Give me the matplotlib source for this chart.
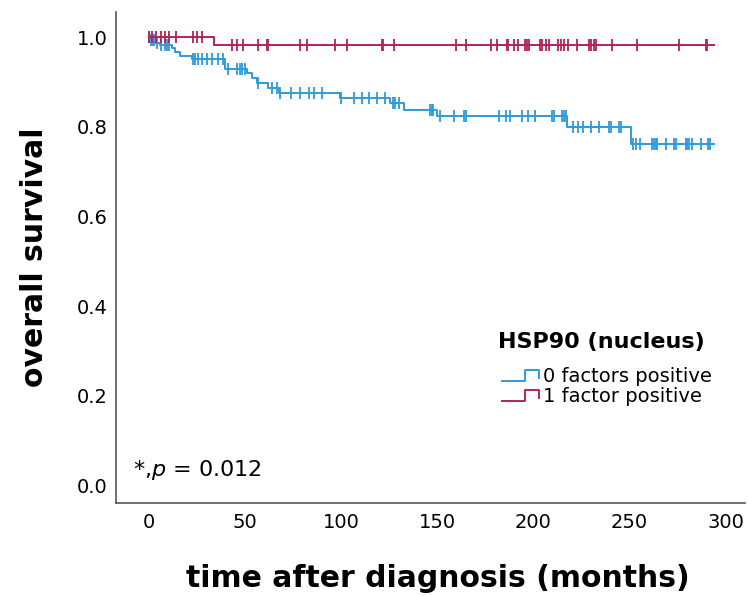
import numpy as np
import matplotlib
matplotlib.use("Agg")
import matplotlib.pyplot as plt
from matplotlib.lines import Line2D
from matplotlib.legend_handler import HandlerBase

# Kaplan-Meier steps (months, survival)
blue_event_t = [0.6, 3.2, 5.8, 11.9, 13.6, 16.2, 22.3, 39.7, 51.0, 53.6, 56.2,
                62.0, 67.5, 99.5, 125.6, 132.8, 149.9, 217.5, 250.9]
blue_surv = [0.994, 0.988, 0.983, 0.976, 0.968, 0.959, 0.951, 0.929, 0.920,
             0.909, 0.899, 0.888, 0.877, 0.864, 0.853, 0.837, 0.825, 0.800, 0.762]
blue_censor_t = [0.3, 1.0, 2.0, 2.7, 4.1, 6.2, 8.4, 9.3, 10.7, 23.2, 24.0, 25.8,
                 27.5, 30.1, 32.7, 36.2, 38.5, 41.4, 45.7, 47.5, 48.4, 50.1, 57.0,
                 64.0, 66.6, 68.3, 74.0, 78.7, 83.5, 85.8, 90.0, 100.0, 106.5,
                 110.8, 114.3, 118.6, 122.9, 126.9, 128.1, 129.9, 146.4, 147.1,
                 147.8, 151.2, 158.9, 164.1, 164.8, 181.9, 185.7, 187.7, 194.1,
                 197.0, 201.0, 209.7, 210.6, 214.9, 215.8, 216.7, 220.5, 223.0,
                 226.0, 229.7, 234.0, 239.2, 240.5, 244.4, 245.3, 251.5, 253.1,
                 255.4, 261.8, 262.6, 263.5, 264.4, 268.7, 273.0, 273.9, 279.1,
                 280.0, 280.8, 282.6, 286.9, 290.7, 291.8]
blue_end = 293.9

red_event_t = [34.0]
red_surv = [0.982]
red_censor_t = [0.3, 1.5, 3.7, 6.2, 8.3, 10.7, 14.2, 23.2, 25.0, 27.5, 43.2,
                45.7, 49.2, 57.0, 61.3, 62.2, 78.8, 82.2, 96.9, 103.0, 121.2,
                122.0, 127.3, 159.9, 165.0, 177.9, 180.8, 186.0, 186.6, 189.8,
                191.8, 195.8, 196.7, 197.7, 203.6, 204.6, 206.6, 208.3, 212.6,
                214.1, 215.8, 217.9, 222.7, 228.8, 230.1, 231.4, 232.4, 240.6,
                254.0, 275.7, 289.6, 290.4]
red_end = 293.8

group_labels = ["0 factors positive", "1 factor positive"]
legend_title = "HSP90 (nucleus)"
p_text = "*," + r"$p$" + " = 0.012"

blue = "#2e9bdc"
red = "#b5205a"

plt.rcParams["mathtext.fontset"] = "custom"
plt.rcParams["mathtext.it"] = "DejaVu Sans:italic"


def surv_at(t, ev_t, ev_s):
    idx = np.searchsorted(ev_t, t, side="right")
    return np.r_[1.0, ev_s][idx]


class StepHandler(HandlerBase):
    # little step icon like the SPSS legend
    def create_artists(self, legend, orig_handle, xdescent, ydescent,
                       width, height, fontsize, trans):
        xs = np.array([0, 0.62, 0.62, 1.0, 1.0]) * width - xdescent
        ys = np.array([0.05, 0.05, 0.85, 0.85, 0.3]) * height - ydescent
        ln = Line2D(xs, ys, color=orig_handle.get_color(), lw=1.4, transform=trans)
        return [ln]


fig = plt.figure(figsize=(7.48, 5.96), dpi=100)
ax = fig.add_axes([0.155, 0.156, 0.841, 0.824])

handles = []
for ev_t, ev_s, cen_t, end, col in [
    (blue_event_t, blue_surv, blue_censor_t, blue_end, blue),
    (red_event_t, red_surv, red_censor_t, red_end, red),
]:
    xs = [0.0] + ev_t + [end]
    ys = [1.0] + ev_s + [ev_s[-1]]
    (h,) = ax.step(xs, ys, where="post", color=col, lw=1.4)
    ax.plot(cen_t, surv_at(cen_t, ev_t, ev_s), ls="none", marker="|",
            markersize=9, markeredgewidth=1.3, color=col)
    handles.append(h)

ax.set_xlim(-17.1, 310)
ax.set_ylim(-0.04, 1.057)
ax.set_xticks([0, 50, 100, 150, 200, 250, 300])
ax.set_yticks([0.0, 0.2, 0.4, 0.6, 0.8, 1.0])
ax.set_yticklabels(["%.1f" % v for v in ax.get_yticks()])
ax.tick_params(length=0, labelsize=14)
ax.tick_params(axis="x", pad=7)
ax.tick_params(axis="y", pad=6)

for s in ["top", "right"]:
    ax.spines[s].set_visible(False)
for s in ["left", "bottom"]:
    ax.spines[s].set_color("#555555")
    ax.spines[s].set_linewidth(1.2)

ax.set_xlabel("time after diagnosis (months)", fontsize=21.5, fontweight="bold",
              labelpad=23)
ax.xaxis.label.set_x(0.512)
ax.set_ylabel("overall survival", fontsize=21.5, fontweight="bold",
              labelpad=20)

ax.text(0.027, 0.067, p_text, transform=ax.transAxes, fontsize=16,
        va="center", ha="left")

ax.text(0.607, 0.328, legend_title, transform=ax.transAxes, fontsize=16,
        fontweight="bold", va="center", ha="left")
leg = ax.legend(handles, group_labels, handler_map={Line2D: StepHandler()},
                loc="upper left", bbox_to_anchor=(0.599, 0.297), frameon=False,
                borderpad=0, prop={"size": 14},
                handlelength=1.9, handletextpad=0.2, labelspacing=0.05)

fig.savefig("out.png", dpi=100)
